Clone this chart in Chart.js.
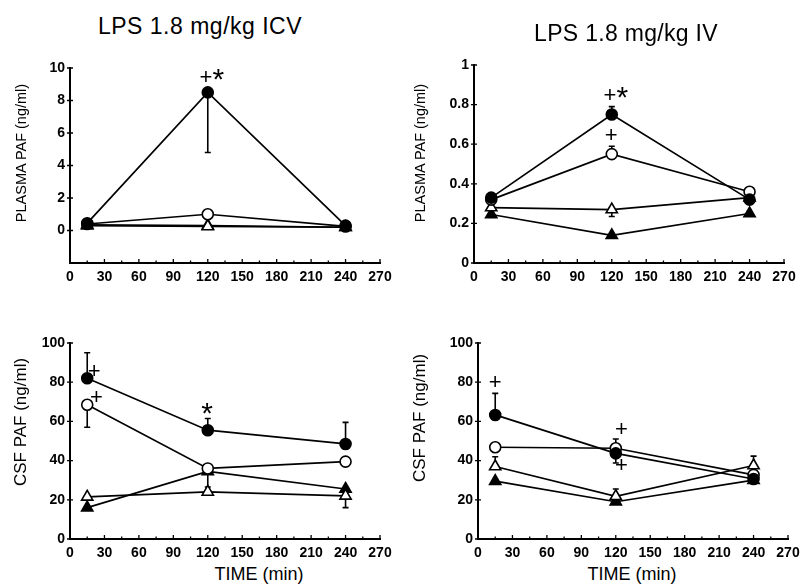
<!DOCTYPE html>
<html lang="en">
<head>
    <meta charset="UTF-8">
    <title>PAF after LPS</title>
    <script src="https://cdn.jsdelivr.net/npm/chart.js"></script>
    <style>
        body { margin: 0; background: #fff; }
        #page { position: relative; width: 801px; height: 588px; overflow: hidden; font-family: 'Liberation Sans', Arial, sans-serif; color: #000; }
        .box { position: absolute; }
        .lbl { position: absolute; white-space: nowrap; transform: translate(-50%, -50%); }
        .ylbl { position: absolute; white-space: nowrap; transform: translate(-50%, -50%) rotate(-90deg); }
    </style>
    <script>
        // sampling times (min)
        const times = [15, 120, 240];
        const xTicks = [0, 30, 60, 90, 120, 150, 180, 210, 240, 270];

        // plasma PAF, LPS ICV (ng/ml)
        const icvPlasmaClosedCircle = [0.45, 8.5, 0.3];
        const icvPlasmaOpenCircle = [0.4, 1.0, 0.25];
        const icvPlasmaOpenTriangle = [0.3, 0.25, 0.2];
        const icvPlasmaClosedTriangle = [0.35, 0.3, 0.2];
        const icvPlasmaClosedCircleErr = [null, 4.8, null];

        // plasma PAF, LPS IV (ng/ml)
        const ivPlasmaClosedCircle = [0.33, 0.75, 0.32];
        const ivPlasmaOpenCircle = [0.32, 0.55, 0.36];
        const ivPlasmaOpenTriangle = [0.28, 0.27, 0.33];
        const ivPlasmaClosedTriangle = [0.245, 0.14, 0.25];
        const ivPlasmaClosedCircleErr = [null, 0.79, null];
        const ivPlasmaOpenCircleErr = [null, 0.59, null];
        const ivPlasmaOpenTriangleErr = [null, 0.235, null];

        // CSF PAF, LPS ICV (ng/ml)
        const icvCsfClosedCircle = [82, 55.5, 48.5];
        const icvCsfOpenCircle = [68.5, 36, 39.5];
        const icvCsfOpenTriangle = [21.5, 24, 22];
        const icvCsfClosedTriangle = [16, 34.5, 25.5];
        const icvCsfClosedCircleErr = [95, 61.5, 59.5];
        const icvCsfOpenCircleErr = [57, null, null];
        const icvCsfOpenTriangleErr = [null, null, 16];
        const icvCsfClosedTriangleErr = [null, 26.5, null];

        // CSF PAF, LPS IV (ng/ml)
        const ivCsfClosedCircle = [63.3, 43.7, 30.6];
        const ivCsfOpenCircle = [46.8, 46.3, 32.7];
        const ivCsfOpenTriangle = [37, 21.8, 37.5];
        const ivCsfClosedTriangle = [29.5, 19, 30];
        const ivCsfClosedCircleErr = [74.3, 38.8, null];
        const ivCsfOpenCircleErr = [null, 51, null];
        const ivCsfOpenTriangleErr = [42, 25.5, 42.3];

        // significance marks [time, value, text]
        const icvPlasmaNotes = [[123.5, 9.4, '+*']];
        const ivPlasmaNotes = [[123.5, 0.845, '+*'], [119.5, 0.64, '+']];
        const icvCsfNotes = [[21, 85, '+'], [23, 72, '+'], [119.5, 65, '*']];
        const ivCsfNotes = [[15, 79.5, '+'], [125, 55.5, '+'], [125, 37.2, '+']];

        const tickFont = { family: "'Liberation Sans', Arial, sans-serif", size: 14, weight: 'bold' };

        function serie(values, errs, style, filled) {
            return {
                data: times.map((t, i) => ({ x: t, y: values[i] })),
                errTo: errs || [],
                borderColor: '#000',
                borderWidth: 1.7,
                pointStyle: style,
                pointRadius: style === 'triangle' ? 6.5 : 5.5,
                pointBorderWidth: 1.6,
                pointBackgroundColor: filled ? '#000' : '#fff',
                pointBorderColor: '#000',
                tension: 0
            };
        }

        // vertical SEM bars with a small cap
        const errorBars = {
            id: 'errorBars',
            beforeDatasetsDraw(chart) {
                const ctx = chart.ctx;
                const x = chart.scales.x, y = chart.scales.y;
                ctx.save();
                ctx.strokeStyle = '#000';
                ctx.lineWidth = 1.6;
                chart.data.datasets.forEach(ds => {
                    ds.errTo.forEach((e, i) => {
                        if (e === null || e === undefined) return;
                        const px = x.getPixelForValue(ds.data[i].x);
                        const p0 = y.getPixelForValue(ds.data[i].y);
                        const p1 = y.getPixelForValue(e);
                        ctx.beginPath();
                        ctx.moveTo(px, p0);
                        ctx.lineTo(px, p1);
                        ctx.moveTo(px - 3, p1);
                        ctx.lineTo(px + 3, p1);
                        ctx.stroke();
                    });
                });
                ctx.restore();
            }
        };

        // inside ticks on x, crossing ticks on y, and the + / * marks
        const extras = {
            id: 'extras',
            afterDraw(chart, args, opts) {
                const ctx = chart.ctx;
                const x = chart.scales.x, y = chart.scales.y;
                const a = chart.chartArea;
                ctx.save();
                ctx.strokeStyle = '#000';
                ctx.lineWidth = 1.3;
                ctx.beginPath();
                for (let v = 0; v <= 270; v += 15) {
                    const px = x.getPixelForValue(v);
                    const len = v % 30 === 0 ? 4 : 2.5;
                    ctx.moveTo(px, a.bottom);
                    ctx.lineTo(px, a.bottom - len);
                }
                y.ticks.forEach(t => {
                    if (t.value < 0) return;
                    const py = y.getPixelForValue(t.value);
                    ctx.moveTo(a.left - 3, py);
                    ctx.lineTo(a.left + 3, py);
                });
                ctx.stroke();

                // '+' and '*' drawn glyph by glyph; the asterisk needs a larger size
                ctx.fillStyle = '#000';
                ctx.textAlign = 'left';
                ctx.textBaseline = 'middle';
                const fontFor = c => c === '*' ? 30 : 22;
                (opts.notes || []).forEach(n => {
                    const chars = n[2].split('');
                    const widths = chars.map(c => {
                        ctx.font = fontFor(c) + "px 'Liberation Sans', Arial, sans-serif";
                        return ctx.measureText(c).width;
                    });
                    let cx = x.getPixelForValue(n[0]) - widths.reduce((s, w) => s + w, 0) / 2;
                    const cy = y.getPixelForValue(n[1]);
                    chars.forEach((c, i) => {
                        const size = fontFor(c);
                        ctx.font = size + "px 'Liberation Sans', Arial, sans-serif";
                        ctx.fillText(c, cx, c === '*' ? cy + size * 0.1 : cy);
                        cx += widths[i];
                    });
                });
                ctx.restore();
            }
        };

        function makePanel(id, rect, plot, yMin, yMax, yStep, datasets, notes) {
            const cv = document.getElementById(id);
            new Chart(cv, {
                type: 'line',
                data: { datasets: datasets },
                plugins: [errorBars, extras],
                options: {
                    responsive: false,
                    animation: false,
                    layout: { padding: { left: 0, top: plot.t - rect.y, right: rect.x + rect.w - plot.r, bottom: 0 } },
                    plugins: { legend: { display: false }, tooltip: { enabled: false }, extras: { notes: notes } },
                    scales: {
                        x: {
                            type: 'linear', min: 0, max: 270,
                            afterBuildTicks: s => { s.ticks = xTicks.map(v => ({ value: v })); },
                            ticks: { font: tickFont, color: '#000', padding: 6, maxRotation: 0, autoSkip: false },
                            grid: { display: false, drawTicks: false },
                            border: { display: true, color: '#000', width: 2 },
                            afterFit: s => { s.height = rect.y + rect.h - plot.b; s.paddingLeft = 0; s.paddingRight = 0; }
                        },
                        y: {
                            min: yMin, max: yMax,
                            ticks: { stepSize: yStep, font: tickFont, color: '#000', padding: 5,
                                callback: v => v < 0 ? '' : String(Math.round(v * 10) / 10) },
                            grid: { display: false, drawTicks: false },
                            border: { display: true, color: '#000', width: 2 },
                            afterFit: s => { s.width = plot.l - rect.x; s.paddingTop = 0; s.paddingBottom = 0; }
                        }
                    }
                }
            });
        }

        window.addEventListener('load', () => {
            makePanel('c1', { x: 0, y: 40, w: 400, h: 260 }, { l: 70, r: 380, t: 68, b: 263 }, -2, 10, 2, [
                serie(icvPlasmaClosedCircle, icvPlasmaClosedCircleErr, 'circle', true),
                serie(icvPlasmaOpenCircle, null, 'circle', false),
                serie(icvPlasmaOpenTriangle, null, 'triangle', false),
                serie(icvPlasmaClosedTriangle, null, 'triangle', true)
            ], icvPlasmaNotes);
            makePanel('c2', { x: 400, y: 40, w: 401, h: 260 }, { l: 474, r: 784, t: 65, b: 263 }, 0, 1, 0.2, [
                serie(ivPlasmaClosedCircle, ivPlasmaClosedCircleErr, 'circle', true),
                serie(ivPlasmaOpenCircle, ivPlasmaOpenCircleErr, 'circle', false),
                serie(ivPlasmaOpenTriangle, ivPlasmaOpenTriangleErr, 'triangle', false),
                serie(ivPlasmaClosedTriangle, null, 'triangle', true)
            ], ivPlasmaNotes);
            makePanel('c3', { x: 0, y: 320, w: 400, h: 240 }, { l: 70, r: 380, t: 343, b: 539 }, 0, 100, 20, [
                serie(icvCsfClosedCircle, icvCsfClosedCircleErr, 'circle', true),
                serie(icvCsfOpenCircle, icvCsfOpenCircleErr, 'circle', false),
                serie(icvCsfOpenTriangle, icvCsfOpenTriangleErr, 'triangle', false),
                serie(icvCsfClosedTriangle, icvCsfClosedTriangleErr, 'triangle', true)
            ], icvCsfNotes);
            makePanel('c4', { x: 400, y: 320, w: 401, h: 240 }, { l: 478, r: 788, t: 343, b: 539 }, 0, 100, 20, [
                serie(ivCsfClosedCircle, ivCsfClosedCircleErr, 'circle', true),
                serie(ivCsfOpenCircle, ivCsfOpenCircleErr, 'circle', false),
                serie(ivCsfOpenTriangle, ivCsfOpenTriangleErr, 'triangle', false),
                serie(ivCsfClosedTriangle, null, 'triangle', true)
            ], ivCsfNotes);
        });
    </script>
</head>
<body>
<div id="page">
    <canvas id="c1" class="box" style="left:0;top:40px" width="400" height="260"></canvas>
    <canvas id="c2" class="box" style="left:400px;top:40px" width="401" height="260"></canvas>
    <canvas id="c3" class="box" style="left:0;top:320px" width="400" height="240"></canvas>
    <canvas id="c4" class="box" style="left:400px;top:320px" width="401" height="240"></canvas>

    <div class="lbl" style="left:200px;top:26px;font-size:23px;letter-spacing:0.5px">LPS 1.8 mg/kg ICV</div>
    <div class="lbl" style="left:626px;top:33px;font-size:23px;letter-spacing:0.3px">LPS 1.8 mg/kg IV</div>

    <div class="ylbl" style="left:21px;top:153px;font-size:14.5px">PLASMA PAF (ng/ml)</div>
    <div class="ylbl" style="left:420px;top:153px;font-size:14.5px">PLASMA PAF (ng/ml)</div>
    <div class="ylbl" style="left:21px;top:422px;font-size:17px">CSF PAF (ng/ml)</div>
    <div class="ylbl" style="left:420px;top:418px;font-size:17px">CSF PAF (ng/ml)</div>

    <div class="lbl" style="left:259px;top:574px;font-size:18px">TIME (min)</div>
    <div class="lbl" style="left:632px;top:574px;font-size:18px">TIME (min)</div>
</div>
</body>
</html>
